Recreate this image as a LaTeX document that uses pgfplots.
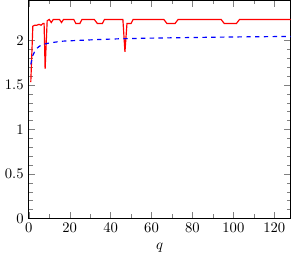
\documentclass[border=0pt]{standalone}
\usepackage{pgfplots}
\pgfplotsset{compat=1.18}
\begin{document}
\begin{tikzpicture}
\begin{axis}[
  scale only axis,
  width=179pt, height=149pt,
  xmin=0, xmax=128, ymin=0, ymax=2.45,
  xtick={0,20,40,60,80,100,120},
  ytick={0,0.5,1,1.5,2},
  minor x tick num=1,
  minor y tick num=4,
  xlabel={$q$},
]
\addplot[red, thick] coordinates {
(1,1.53) (2,2.16) (3,2.17) (4,2.17) (5,2.18) (6,2.17) (7,2.19) (7.5,2.19) (8,1.68) (9,2.22) (10,2.235) (11,2.20) (12,2.235)
(15,2.235) (16,2.20) (17,2.235) (22,2.235) (23,2.19) (25,2.19) (26,2.235)
(32,2.235) (33.5,2.19) (36,2.19) (37,2.235) (46,2.235) (47,1.87) (48,2.19) (50,2.19) (51,2.235)
(66,2.235) (67.5,2.19) (71.5,2.19) (73,2.235) (94,2.235) (95.5,2.19) (101.5,2.19) (103,2.235) (128,2.235)
};
\addplot[blue, thick, dashed] coordinates {
(1,1.73) (2,1.83) (3,1.88) (4,1.91) (5,1.93) (6,1.945) (8,1.96) (10,1.97) (13,1.98) (16,1.99) (20,1.995) (25,2.0) (30,2.005) (35,2.01) (45,2.018) (60,2.025) (80,2.032) (100,2.038) (128,2.044)
};
\end{axis}
\end{tikzpicture}
\end{document}
